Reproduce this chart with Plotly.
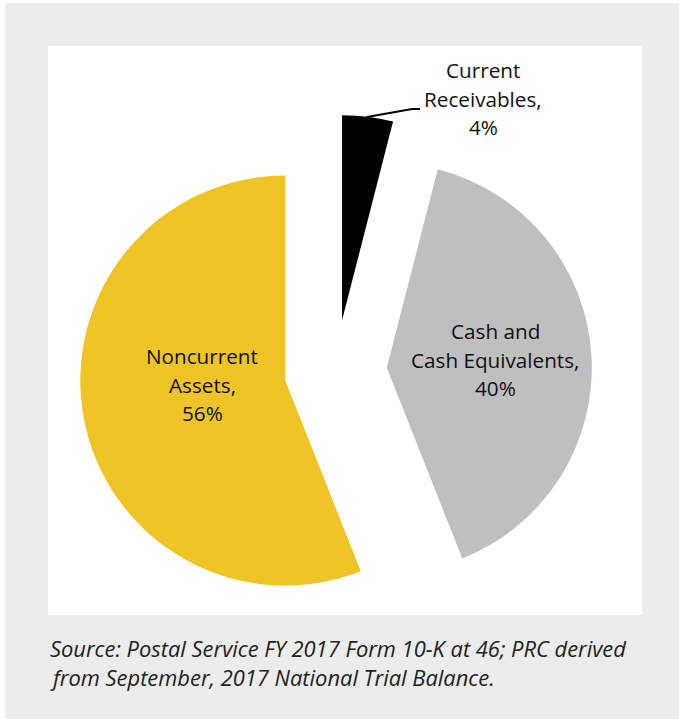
import plotly.graph_objects as go

W, H = 679, 719

# Balance-sheet asset composition (percent of total assets)
labels = ["Current Receivables", "Cash and Cash Equivalents", "Noncurrent Assets"]
values = [4, 40, 56]
label_lines = [["Current", "Receivables,"], ["Cash and", "Cash Equivalents,"], ["Noncurrent", "Assets,"]]
colors = ["#000000", "#BFBFBF", "#EFC426"]
pulls = [0.25, 0.25, 0.25]

caption_lines = [
    "Source: Postal Service FY 2017 Form 10-K at 46; PRC derived",
    "from September, 2017 National Trial Balance.",
]


def px(x):
    return x / W


def py(y):
    return 1 - y / H


# Pie box (pixels) chosen so the exploded slices sit inside the white panel
box_l, box_r, box_t, box_b = 79.4, 591.9, 114.75, 627.25

fig = go.Figure(
    go.Pie(
        labels=labels,
        values=values,
        sort=False,
        direction="clockwise",
        rotation=0,
        pull=pulls,
        marker=dict(colors=colors, line=dict(width=0)),
        textinfo="none",
        hoverinfo="skip",
        showlegend=False,
        automargin=False,
        domain=dict(x=[px(box_l), px(box_r)], y=[py(box_b), py(box_t)]),
    )
)

total = sum(values)
label_pos = [(483, 70), (495, 331), (202, 356)]
line_gap = 28.5
font_family = "Open Sans"
annotations = []
for lines, v, (cx, cy) in zip(label_lines, values, label_pos):
    all_lines = lines + [f"{round(100 * v / total)}%"]
    for i, t in enumerate(all_lines):
        annotations.append(
            dict(
                x=px(cx), y=py(cy + i * line_gap), xref="paper", yref="paper",
                text=t, showarrow=False, xanchor="center", yanchor="middle",
                font=dict(family=font_family, size=20.7, color="#111111"),
            )
        )

for i, t in enumerate(caption_lines):
    annotations.append(
        dict(
            x=px(48), y=py(648 + i * 29), xref="paper", yref="paper",
            text=f"<i>{t}</i>", showarrow=False, xanchor="left", yanchor="middle",
            font=dict(family=font_family, size=21.9, color="#222222"),
        )
    )

shapes = [
    dict(type="rect", xref="paper", yref="paper", x0=px(5), x1=1, y0=0, y1=py(3),
         fillcolor="#ECECEC", line=dict(width=0), layer="below"),
    dict(type="rect", xref="paper", yref="paper", x0=px(48), x1=px(642), y0=py(615), y1=py(46),
         fillcolor="#FFFFFF", line=dict(width=0), layer="below"),
    # leader line for the small slice label
    dict(type="path", xref="paper", yref="paper",
         path=f"M {px(367)},{py(117)} L {px(412)},{py(109)} L {px(420)},{py(109)}",
         line=dict(color="#000000", width=2)),
]

fig.update_layout(
    width=W, height=H,
    margin=dict(l=0, r=0, t=0, b=0),
    paper_bgcolor="#FFFFFF",
    plot_bgcolor="#FFFFFF",
    shapes=shapes,
    annotations=annotations,
)

fig.write_html("out.html")
